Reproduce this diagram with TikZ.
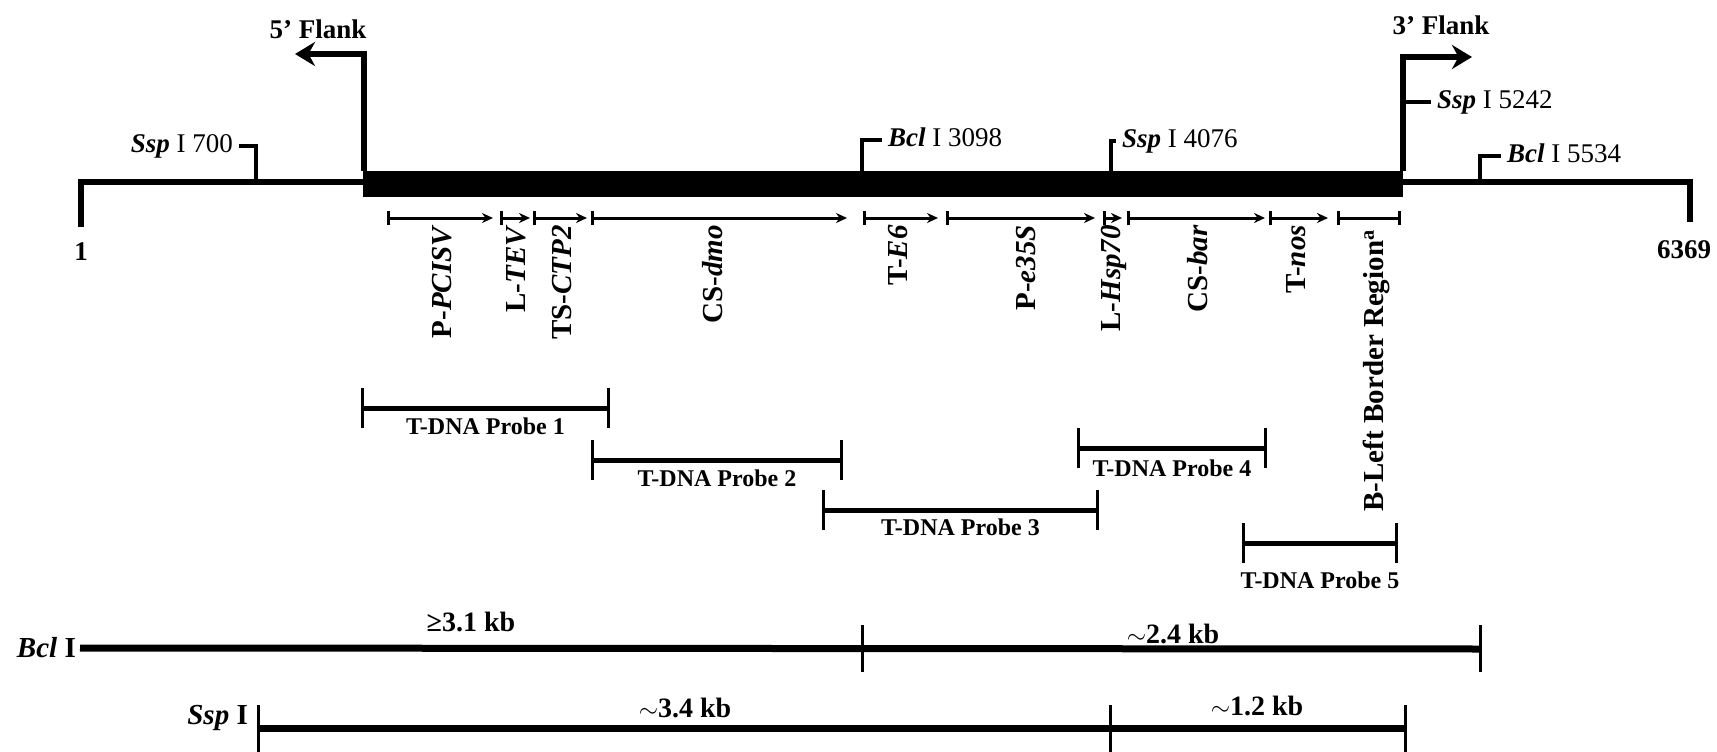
\documentclass[tikz,border=0pt]{standalone}
\usepackage{fontspec}
\setmainfont{Liberation Serif}
\usetikzlibrary{arrows.meta}
\tikzset{
  map line/.style={line width=6pt},
  map insert/.style={fill=black},
  map flank/.style={line width=5.5pt,-{Stealth[length=20pt,width=24pt]}},
  map flank label/.style={font=\fontsize{27}{30}\selectfont\bfseries,inner sep=0pt},
  map end/.style={font=\fontsize{27}{30}\selectfont\bfseries,inner sep=0pt},
  map site/.style={line width=3.5pt},
  map site label/.style={font=\fontsize{27}{30}\selectfont,text height=19pt,text depth=6pt,inner xsep=6pt,inner ysep=0pt},
  map feature/.style={line width=3pt,{Bar[width=14pt]}-{Stealth[length=11pt,width=10pt]}},
  map region/.style={line width=3pt,{Bar[width=14pt]}-{Bar[width=14pt]}},
  map gene/.style={font=\fontsize{29}{32}\selectfont\bfseries,rotate=90,anchor=east,inner sep=0pt},
  map probe/.style={line width=5pt,{Bar[width=40pt,line width=3pt]}-{Bar[width=40pt,line width=3pt]}},
  map probe label/.style={font=\fontsize{24}{28}\selectfont\bfseries,inner sep=0pt},
  map digest/.style={line width=7pt},
  map cut/.style={line width=3pt},
  map digest label/.style={font=\fontsize{29}{32}\selectfont\bfseries,inner sep=4pt},
  map size/.style={font=\fontsize{28}{32}\selectfont\bfseries,inner sep=0pt}
}

\begin{document}
\begin{tikzpicture}[x=1pt,y=-1pt]
  \useasboundingbox (0,0) rectangle (1717,752);
  \coordinate (lend) at (81,227);
  \coordinate (rend) at (1690,222);
  \coordinate (insl) at (363,182);
  \coordinate (insr) at (1403,182);
  \draw[map line] (lend) |- (insl);
  \draw[map line] (insr) -| (rend);
  \fill[map insert] (363,171) rectangle (1403,197);
  \node[map end] (one) at (81,252) {1};
  \node[map end] (last) at (1684,250) {6369};

  \coordinate (fivebase) at (364,171);
  \coordinate (fivetip) at (295,54);
  \draw[map flank] (fivebase) |- (fivetip);
  \node[map flank label] (fivelab) at (318,29) {5' Flank};
  \coordinate (threebase) at (1403,171);
  \coordinate (threetip) at (1472,57);
  \draw[map flank] (threebase) |- (threetip);
  \node[map flank label] (threelab) at (1441,25) {3' Flank};

  \coordinate (c700) at (256,182);
  \node[map site label,anchor=east] (s700) at (239,146) {\textbf{\textit{Ssp}} I 700};
  \draw[map site] (c700) |- (s700.east);
  \coordinate (c3098) at (862,171);
  \node[map site label,anchor=west] (b3098) at (882,140) {\textbf{\textit{Bcl}} I 3098};
  \draw[map site] (c3098) |- (b3098.west);
  \coordinate (c4076) at (1111,171);
  \node[map site label,anchor=west] (s4076) at (1116,141) {\textbf{\textit{Ssp}} I 4076};
  \draw[map site] (c4076) |- (s4076.west);
  \coordinate (c5242) at (1403,102);
  \node[map site label,anchor=west] (s5242) at (1431,102) {\textbf{\textit{Ssp}} I 5242};
  \draw[map site] (c5242) -- (s5242.west);
  \coordinate (c5534) at (1480,182);
  \node[map site label,anchor=west] (b5534) at (1501,156) {\textbf{\textit{Bcl}} I 5534};
  \draw[map site] (c5534) |- (b5534.west);

  \foreach \n/\xa/\xb/\xl/\txt in {pcisv/387/493/442/{P-\textit{PCISV}},
      tev/500/530/516/{L-\textit{TEV}}, ctp/533/587/562/{TS-\textit{CTP2}},
      dmo/591/847/713/{CS-\textit{dmo}}, esix/863/938/898/{T-\textit{E6}},
      ess/946/1095/1026/{P-\textit{e35S}}, hsp/1103/1122/1114/{L-\textit{Hsp70}},
      bar/1127/1265/1198/{CS-\textit{bar}}, nos/1269/1328/1296/{T-\textit{nos}}}{
    \coordinate (\n a) at (\xa,218);
    \coordinate (\n b) at (\xb,218);
    \draw[map feature] (\n a) -- (\n b);
    \node[map gene] (\n) at (\xl,225) {\txt};
  }
  \coordinate (lba) at (1337,218);
  \coordinate (lbb) at (1401,218);
  \draw[map region] (lba) -- (lbb);
  \node[map gene] (lb) at (1376,230) {B-Left Border Region\textsuperscript{a}};

  \foreach \n/\xa/\xb/\y/\ly in {1/361/610/408/426, 2/591/843/460/478,
      3/822/1099/510/527, 4/1077/1267/448/468, 5/1242/1398/543/580}{
    \coordinate (p\n a) at (\xa,\y);
    \coordinate (p\n b) at (\xb,\y);
    \draw[map probe] (p\n a) -- (p\n b);
    \node[map probe label] (p\n) at ({(\xa+\xb)/2},\ly) {T-DNA Probe \n};
  }

  \node[map digest label,anchor=east] (bcl) at (80,648) {\textit{Bcl} I};
  \coordinate (bclcut) at (862,649);
  \coordinate (bclend) at (1480,649);
  \draw[map digest] (bcl.east) -- (bclend);
  \foreach \c in {bclcut,bclend}
    \draw[map cut] ([yshift=24pt]\c) -- ([yshift=-23pt]\c);
  \node[map size] (bcla) at (471,622) {≥3.1 kb};
  \node[map size] (bclb) at (1173,634) {$\sim$2.4 kb};

  \node[map digest label,anchor=east] (ssp) at (252,718) {\textit{Ssp} I};
  \coordinate (sspa) at (258,728);
  \coordinate (sspcut) at (1110,728);
  \coordinate (sspend) at (1405,728);
  \draw[map digest] (sspa) -- (sspend);
  \foreach \c in {sspa,sspcut,sspend}
    \draw[map cut] ([yshift=23pt]\c) -- ([yshift=-24pt]\c);
  \node[map size] (sspx) at (685,708) {$\sim$3.4 kb};
  \node[map size] (sspy) at (1257,706) {$\sim$1.2 kb};
\end{tikzpicture}
\end{document}
